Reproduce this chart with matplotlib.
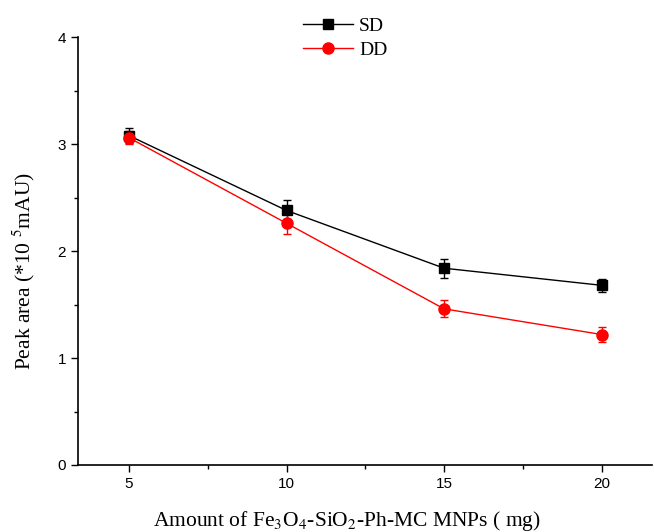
import matplotlib
matplotlib.use("Agg")
import matplotlib.pyplot as plt
from matplotlib.ticker import MultipleLocator
from matplotlib.lines import Line2D

amount = [5, 10, 15, 20]
sd = [3.08, 2.38, 1.84, 1.68]
sd_err = [0.07, 0.10, 0.09, 0.06]
dd = [3.06, 2.26, 1.46, 1.22]
dd_err = [0.06, 0.10, 0.08, 0.07]

plt.rcParams['mathtext.fontset'] = 'stix'
fig = plt.figure(figsize=(6.54, 5.32), dpi=100)
ax = fig.add_axes([0.119, 0.126, 0.878, 0.804])

ax.errorbar(amount, sd, yerr=sd_err, color='black', marker='s', markersize=7,
            linewidth=1, capsize=3, elinewidth=1, label='SD')
ax.errorbar(amount, dd, yerr=dd_err, color='red', marker='o', markersize=8,
            linewidth=1, capsize=3, elinewidth=1, label='DD')

ax.set_xlim(3.375, 21.6)
ax.set_ylim(0, 4)
ax.set_xticks(amount)
ax.set_yticks([0, 1, 2, 3, 4])
ax.xaxis.set_minor_locator(MultipleLocator(2.5))
ax.yaxis.set_minor_locator(MultipleLocator(0.5))
ax.tick_params(which='major', direction='out', length=5, width=1, labelsize=11)
ax.tick_params(which='minor', direction='out', length=3, width=1)
for lab in ax.get_xticklabels() + ax.get_yticklabels():
    lab.set_family('Liberation Sans')
ax.spines['top'].set_visible(False)
ax.spines['right'].set_visible(False)
ax.spines['left'].set_linewidth(1.2)
ax.spines['bottom'].set_linewidth(1.2)

ax.set_xlabel(r'Amount of Fe$_3$O$_4$-SiO$_2$-Ph-MC MNPs ( mg)',
              family='Liberation Serif', fontsize=15.5)
ax.set_ylabel(r'Peak area (*10 $^5$mAU)', family='Liberation Serif', fontsize=15.5)
ax.xaxis.set_label_coords(0.469, -0.103)
ax.yaxis.set_label_coords(-0.071, 0.454)

handles = [Line2D([], [], color='black', marker='s', markersize=7, linewidth=1),
           Line2D([], [], color='red', marker='o', markersize=8, linewidth=1)]
leg = ax.legend(handles, ['SD', 'DD'], loc='center', bbox_to_anchor=(0.465, 0.998),
                frameon=False, prop={'family': 'Liberation Serif', 'size': 14},
                handlelength=2.6, handletextpad=0.3, labelspacing=0.35,
                borderaxespad=0)

fig.savefig('out.png', dpi=100)
